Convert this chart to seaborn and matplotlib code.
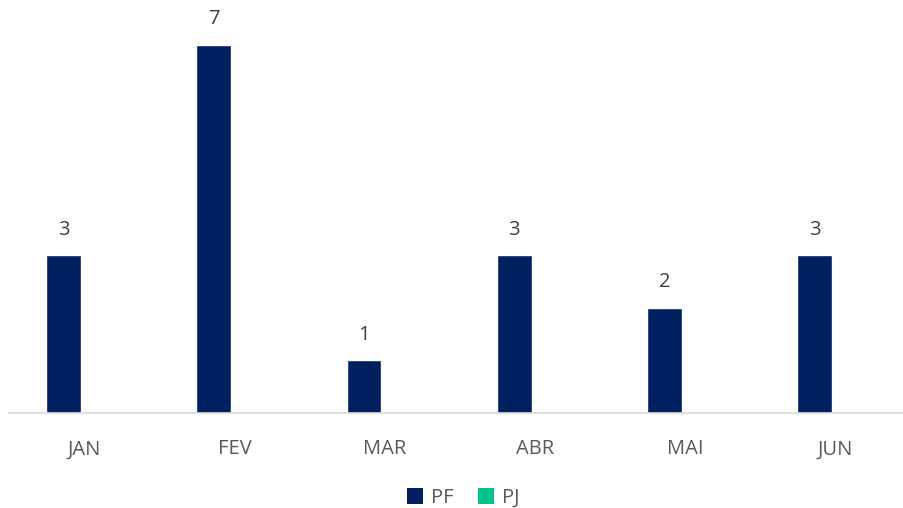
import matplotlib
matplotlib.use("Agg")
import matplotlib.pyplot as plt
import seaborn as sns
import pandas as pd

months = ["JAN", "FEV", "MAR", "ABR", "MAI", "JUN"]
pf = [3, 7, 1, 3, 2, 3]
pj = [0, 0, 0, 0, 0, 0]
series = ["PF", "PJ"]
colors = ["#002060", "#00C48C"]

df = pd.DataFrame({
    "mes": months * 2,
    "valor": pf + pj,
    "tipo": ["PF"] * len(months) + ["PJ"] * len(months),
})

sns.set_theme(style="white")
plt.rcParams["font.family"] = ["Open Sans", "DejaVu Sans"]

fig = plt.figure(figsize=(9.04, 5.08), dpi=100)
ax = fig.add_axes([9 / 904, 95 / 508, 894 / 904, 400 / 508])

sns.barplot(data=df, x="mes", y="valor", hue="tipo", palette=colors,
            width=0.55, gap=0.16, ax=ax, legend=False, saturation=1)

ax.set_ylim(0, 7.6)
ax.set_xlim(-0.5, len(months) - 0.55)
for s in ["top", "right", "left"]:
    ax.spines[s].set_visible(False)
ax.spines["bottom"].set_color("#D9D9D9")
ax.spines["bottom"].set_linewidth(1.2)
ax.set_yticks([])
ax.set_xlabel("")
ax.set_ylabel("")
ax.tick_params(axis="x", length=0, pad=19, labelsize=14.5, labelcolor="#595959")

# data labels on PF bars only
pf_container = ax.containers[0]
ax.bar_label(pf_container, labels=[str(v) for v in pf], padding=11,
             fontsize=14.5, color="#404040")

from matplotlib.patches import Patch
handles = [Patch(facecolor=c, edgecolor="none") for c in colors]
fig.legend(handles, series, loc="center", bbox_to_anchor=(463 / 904, 1 - 498 / 508),
           ncol=2, frameon=False, fontsize=14.5, labelcolor="#595959",
           handlelength=0.8, handleheight=0.8, handletextpad=0.4, columnspacing=1.2)

fig.savefig("out.png", dpi=100)
